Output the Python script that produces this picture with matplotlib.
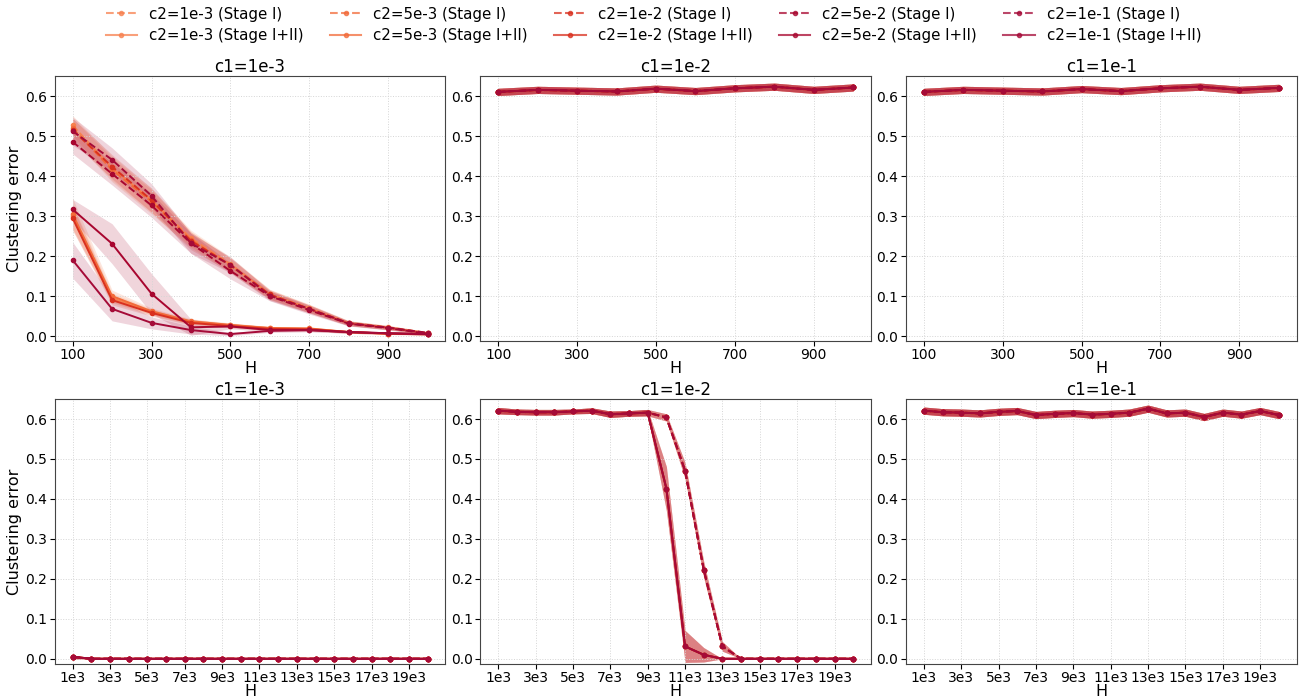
import numpy as np
import matplotlib
matplotlib.use('Agg')
import matplotlib.pyplot as plt

c2_labels = ['1e-3', '5e-3', '1e-2', '5e-2', '1e-1']
colors = ['#f7814f', '#f26b3a', '#d9301f', '#a8062f', '#a50b38']
c1_titles = ['c1=1e-3', 'c1=1e-2', 'c1=1e-1']

H_small = [100, 200, 300, 400, 500, 600, 700, 800, 900, 1000]
H_large = [1000 * k for k in range(1, 21)]
large_ticks = [1000 * k for k in range(1, 21, 2)]
large_ticklabels = ['%de3' % k for k in range(1, 21, 2)]

# ---- top-left panel: c1=1e-3, small H ----
tl_stage1 = [
    [0.527, 0.420, 0.340, 0.245, 0.180, 0.105, 0.070, 0.033, 0.022, 0.008],
    [0.520, 0.416, 0.336, 0.241, 0.176, 0.103, 0.068, 0.032, 0.021, 0.007],
    [0.515, 0.424, 0.340, 0.238, 0.178, 0.104, 0.068, 0.032, 0.021, 0.007],
    [0.486, 0.406, 0.327, 0.232, 0.163, 0.100, 0.065, 0.031, 0.020, 0.006],
    [0.513, 0.441, 0.351, 0.232, 0.178, 0.101, 0.068, 0.032, 0.021, 0.008],
]
tl_stage1_sd = [
    [0.025, 0.030, 0.030, 0.020, 0.018, 0.012, 0.010, 0.006, 0.005, 0.003],
    [0.025, 0.030, 0.030, 0.020, 0.018, 0.012, 0.010, 0.006, 0.005, 0.003],
    [0.030, 0.030, 0.030, 0.022, 0.018, 0.012, 0.010, 0.006, 0.005, 0.003],
    [0.030, 0.028, 0.030, 0.025, 0.020, 0.012, 0.010, 0.006, 0.005, 0.003],
    [0.035, 0.030, 0.030, 0.025, 0.020, 0.012, 0.010, 0.006, 0.005, 0.003],
]
tl_stage12 = [
    [0.300, 0.095, 0.060, 0.035, 0.027, 0.020, 0.018, 0.010, 0.006, 0.005],
    [0.305, 0.100, 0.062, 0.037, 0.028, 0.020, 0.019, 0.010, 0.006, 0.005],
    [0.295, 0.090, 0.058, 0.033, 0.025, 0.018, 0.017, 0.010, 0.006, 0.004],
    [0.317, 0.231, 0.106, 0.022, 0.024, 0.015, 0.015, 0.010, 0.007, 0.005],
    [0.190, 0.068, 0.033, 0.015, 0.005, 0.013, 0.015, 0.010, 0.007, 0.005],
]
tl_stage12_sd = [
    [0.030, 0.012, 0.008, 0.006, 0.005, 0.004, 0.004, 0.003, 0.002, 0.002],
    [0.040, 0.015, 0.008, 0.006, 0.005, 0.004, 0.004, 0.003, 0.002, 0.002],
    [0.030, 0.012, 0.008, 0.006, 0.005, 0.004, 0.004, 0.003, 0.002, 0.002],
    [0.025, 0.050, 0.050, 0.020, 0.006, 0.004, 0.004, 0.003, 0.002, 0.002],
    [0.045, 0.030, 0.015, 0.010, 0.004, 0.004, 0.004, 0.003, 0.002, 0.002],
]

# ---- flat panels (all c2 overlap) ----
tm_mean = [0.611, 0.616, 0.614, 0.612, 0.619, 0.613, 0.620, 0.624, 0.616, 0.622]
tr_mean = [0.611, 0.616, 0.614, 0.612, 0.618, 0.613, 0.620, 0.624, 0.616, 0.621]
flat_sd = 0.009

bl_mean = [0.005, 0.0, 0.0, 0.0, 0.0, 0.0, 0.0, 0.0, 0.0, 0.0,
           0.0, 0.0, 0.0, 0.0, 0.0, 0.0, 0.0, 0.0, 0.0, 0.0]
bl_sd = [0.005, 0.0, 0.0, 0.0, 0.0, 0.0, 0.0, 0.0, 0.0, 0.0,
         0.0, 0.0, 0.0, 0.0, 0.0, 0.0, 0.0, 0.0, 0.0, 0.0]

bm_stage1 = [0.621, 0.618, 0.617, 0.617, 0.619, 0.621, 0.612, 0.614, 0.616, 0.604,
             0.471, 0.223, 0.031, 0.0, 0.0, 0.0, 0.0, 0.0, 0.0, 0.0]
bm_stage1_sd = [0.008, 0.007, 0.007, 0.007, 0.006, 0.007, 0.008, 0.007, 0.008, 0.009,
                0.020, 0.020, 0.012, 0.0, 0.0, 0.0, 0.0, 0.0, 0.0, 0.0]
bm_stage12 = [0.621, 0.618, 0.617, 0.617, 0.619, 0.621, 0.612, 0.614, 0.616, 0.426,
              0.031, 0.010, 0.0, 0.0, 0.0, 0.0, 0.0, 0.0, 0.0, 0.0]
bm_stage12_sd = [0.008, 0.007, 0.007, 0.007, 0.006, 0.007, 0.008, 0.007, 0.008, 0.055,
                 0.040, 0.018, 0.0, 0.0, 0.0, 0.0, 0.0, 0.0, 0.0, 0.0]

br_mean = [0.621, 0.617, 0.616, 0.614, 0.618, 0.620, 0.610, 0.613, 0.615, 0.611,
           0.613, 0.616, 0.626, 0.614, 0.616, 0.605, 0.616, 0.611, 0.620, 0.610]


def draw(ax, x, mean, sd, color, ls):
    mean = np.asarray(mean)
    sd = np.asarray(sd) * np.ones_like(mean)
    ax.fill_between(x, mean - sd, mean + sd, color=color, alpha=0.17, lw=0)
    ax.plot(x, mean, ls, color=color, marker='o', ms=3, lw=1.4)


fig, axes = plt.subplots(2, 3, figsize=(13.07, 7.0), dpi=100)
plt.subplots_adjust(left=0.042, right=0.992, top=0.891, bottom=0.052,
                    wspace=0.09, hspace=0.22)

for i in range(5):
    draw(axes[0, 0], H_small, tl_stage1[i], tl_stage1_sd[i], colors[i], '--')
    draw(axes[0, 0], H_small, tl_stage12[i], tl_stage12_sd[i], colors[i], '-')
    for stage_ls in ['--', '-']:
        draw(axes[0, 1], H_small, tm_mean, flat_sd, colors[i], stage_ls)
        draw(axes[0, 2], H_small, tr_mean, flat_sd, colors[i], stage_ls)
        draw(axes[1, 0], H_large, bl_mean, bl_sd, colors[i], stage_ls)
        draw(axes[1, 2], H_large, br_mean, flat_sd, colors[i], stage_ls)
    draw(axes[1, 1], H_large, bm_stage1, bm_stage1_sd, colors[i], '--')
    draw(axes[1, 1], H_large, bm_stage12, bm_stage12_sd, colors[i], '-')

for r in range(2):
    for c in range(3):
        ax = axes[r, c]
        ax.set_title(c1_titles[c], fontsize=12, pad=3)
        ax.set_xlabel('H', fontsize=11.5, labelpad=-1)
        ax.set_ylim(-0.012, 0.65)
        ax.set_yticks([0.0, 0.1, 0.2, 0.3, 0.4, 0.5, 0.6])
        ax.tick_params(labelsize=10, pad=2)
        ax.grid(True, ls=':', color='#d5d5d5', lw=0.7)
        for s in ax.spines.values():
            s.set_color('#444444')
        if r == 0:
            ax.set_xticks([100, 300, 500, 700, 900])
        else:
            ax.set_xticks(large_ticks)
            ax.set_xticklabels(large_ticklabels)
    axes[r, 0].set_ylabel('Clustering error', fontsize=11.5, labelpad=2)

handles = []
labels = []
for i in range(5):
    for ls, stage in [('--', 'Stage I'), ('-', 'Stage I+II')]:
        h, = plt.plot([], [], ls, color=colors[i], marker='o', ms=3, lw=1.5, alpha=0.75)
        handles.append(h)
        labels.append('c2=%s (%s)' % (c2_labels[i], stage))
fig.legend(handles, labels, loc='upper center', ncol=5, frameon=False,
           fontsize=10.8, bbox_to_anchor=(0.5, 1.01), columnspacing=1.75,
           handlelength=2.1, labelspacing=0.42)

plt.savefig('out.png', dpi=100)
